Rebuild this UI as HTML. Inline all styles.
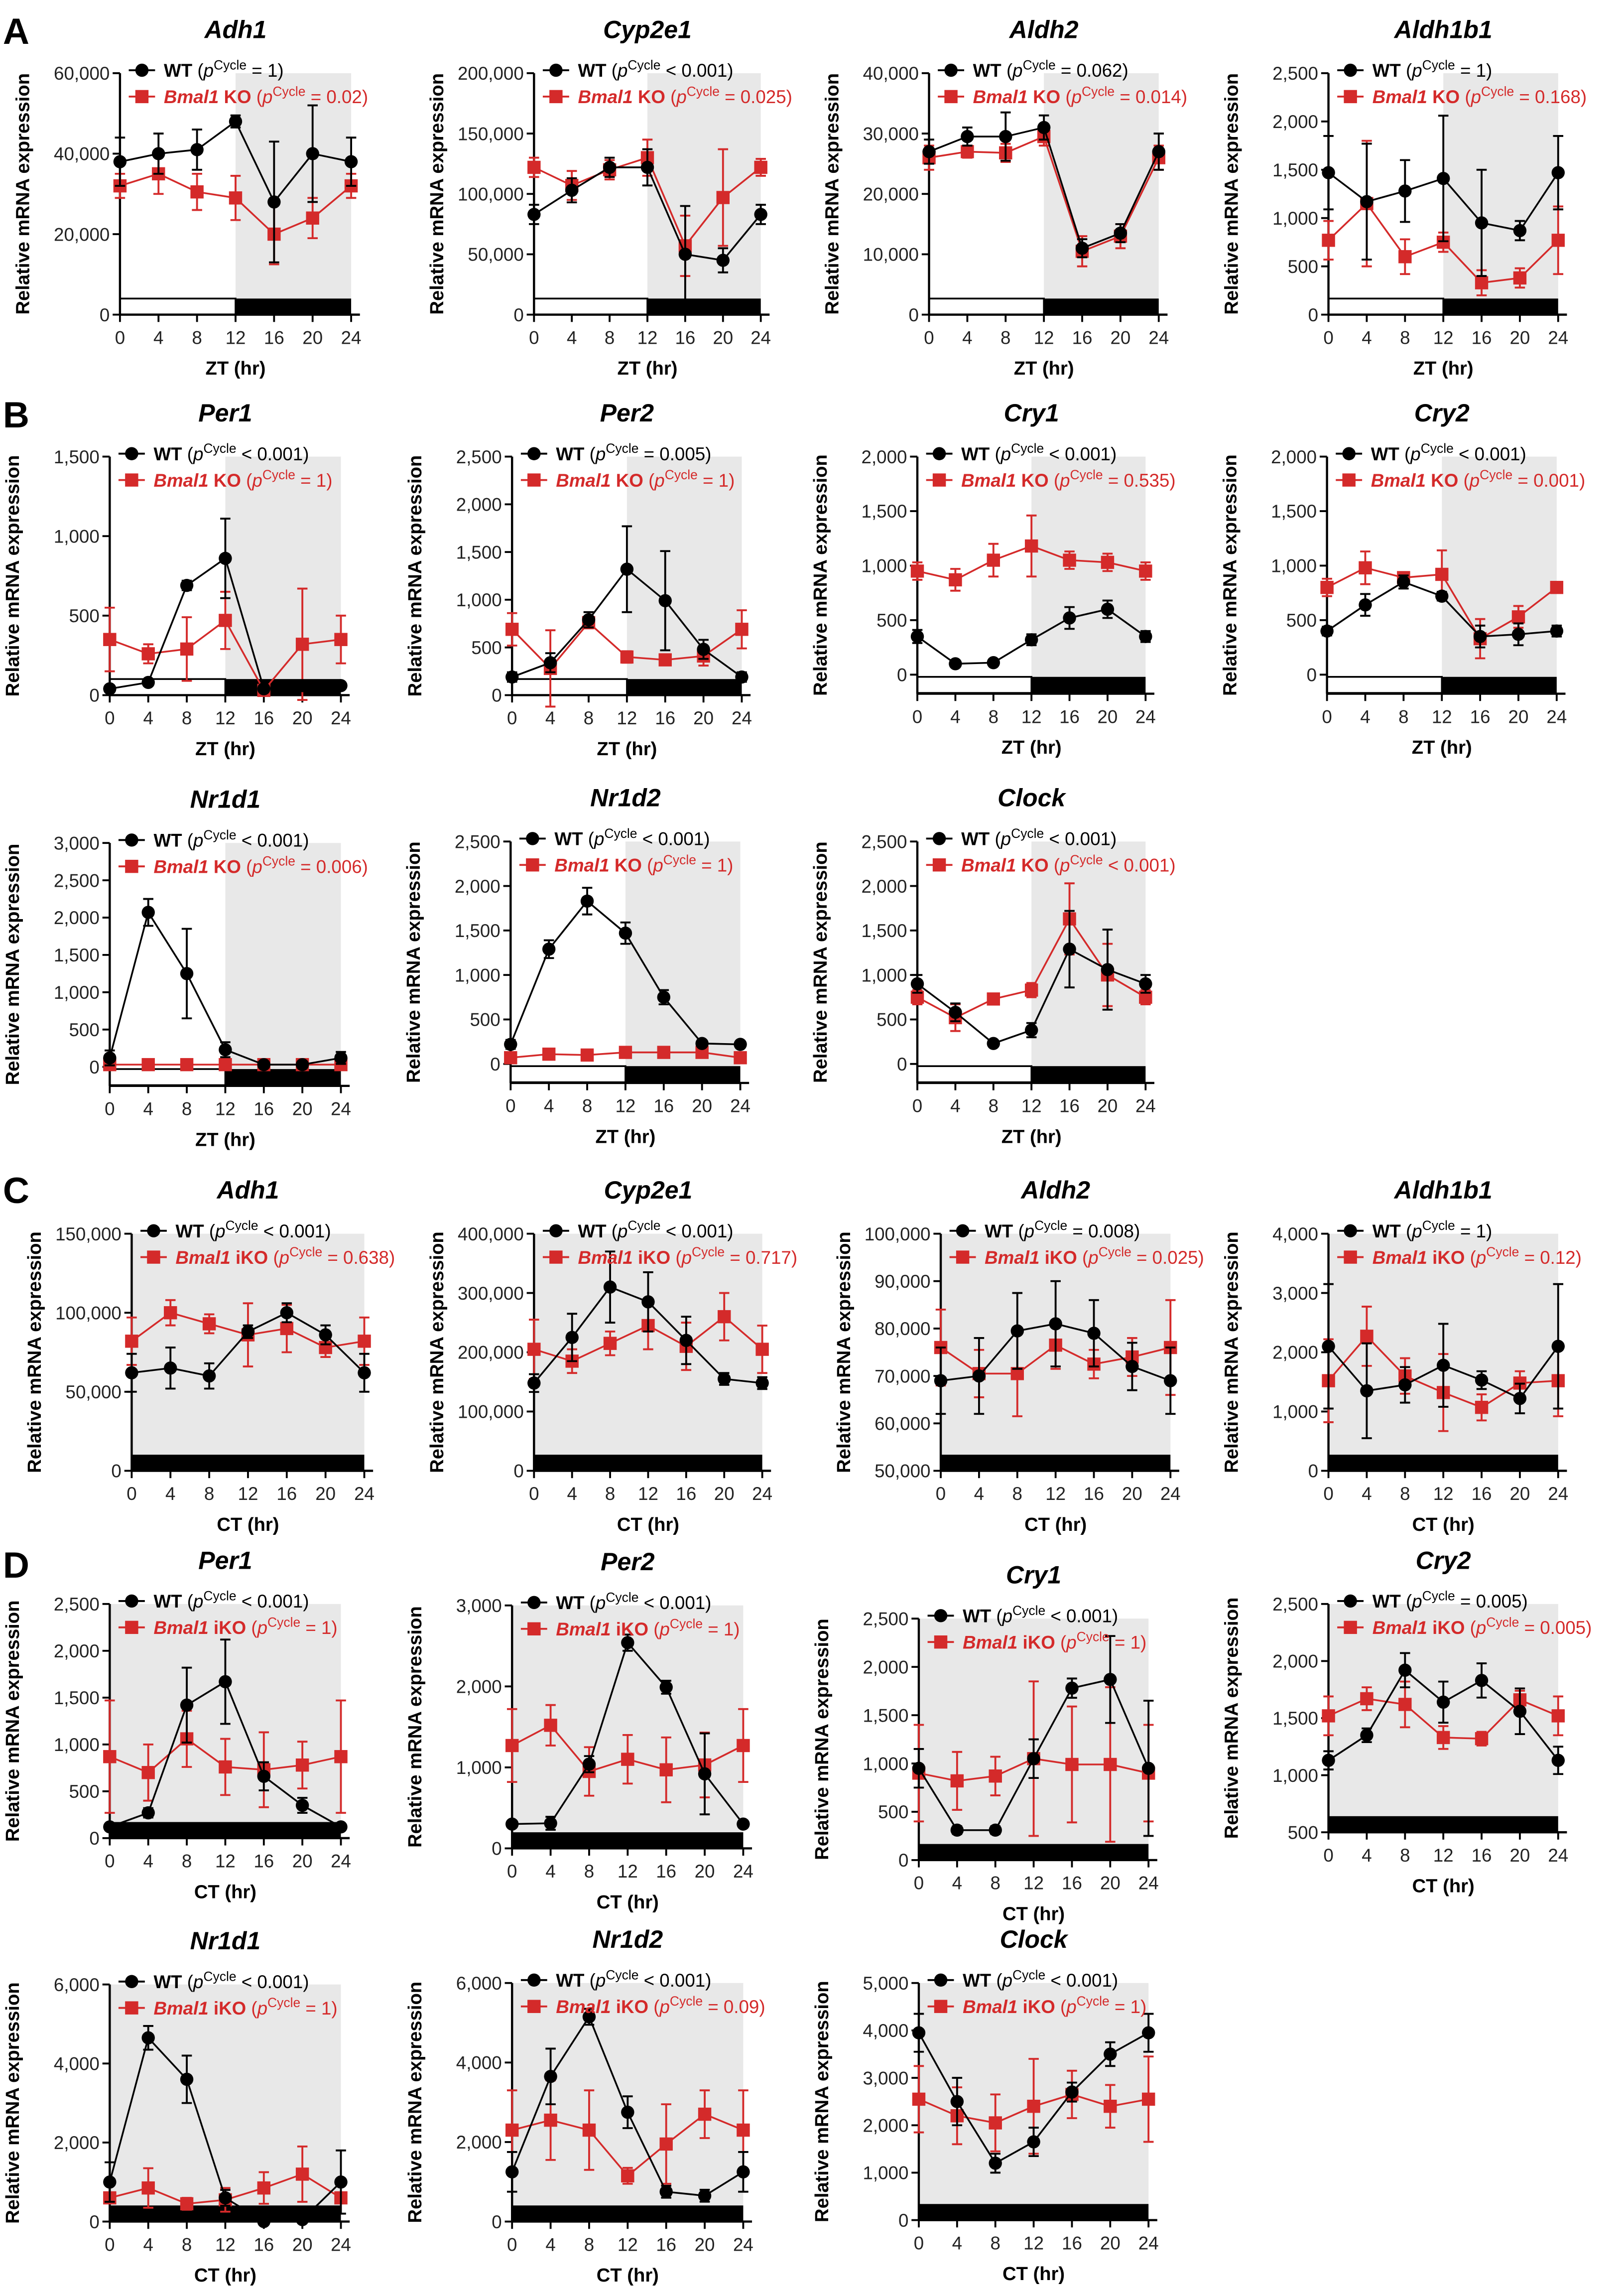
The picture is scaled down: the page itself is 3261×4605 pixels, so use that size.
<!DOCTYPE html>
<html><head><meta charset="utf-8"><style>
html,body{margin:0;padding:0;background:#fff;}
svg{display:block;font-family:"Liberation Sans",Arial,sans-serif;}
</style></head><body>
<svg id="fig" width="3261" height="4605" viewBox="0 0 1110 1567.5" preserveAspectRatio="none" xmlns="http://www.w3.org/2000/svg">
<text x="2" y="30" font-size="25" font-weight="bold">A</text>
<text x="2" y="292" font-size="25" font-weight="bold">B</text>
<text x="2" y="822" font-size="25" font-weight="bold">C</text>
<text x="2" y="1078" font-size="25" font-weight="bold">D</text>
</svg>
<script>
const times = [0,4,8,12,16,20,24];
// A
const aAdh1WT=[38000,40000,41000,48000,28000,40000,38000], aAdh1WTe=[6000,5000,5000,1500,15000,12000,6000];
const aAdh1KO=[32000,35000,30500,29000,20000,24000,32000], aAdh1KOe=[3000,5000,4500,5500,7500,5000,3000];
const aCypWT=[83000,103000,122000,122000,50000,45000,83000], aCypWTe=[8000,10000,8000,15000,40000,10000,8000];
const aCypKO=[122000,107000,120000,130000,57000,97000,122000], aCypKOe=[8000,12000,8000,15000,25000,40000,7000];
const aAldh2WT=[27000,29500,29500,31000,11000,13500,27000], aAldh2WTe=[2000,1500,4000,2000,1500,1500,3000];
const aAldh2KO=[26000,27000,26800,29500,10500,13000,26000], aAldh2KOe=[2000,1000,1500,1500,2500,2000,2000];
const aAldh1b1WT=[1470,1170,1280,1410,950,870,1470], aAldh1b1WTe=[380,600,320,650,550,100,380];
const aAldh1b1KO=[770,1150,600,750,330,380,770], aAldh1b1KOe=[200,650,180,100,130,100,350];
// B
const bPer1WT=[40,80,690,860,40,60,60], bPer1WTe=[20,20,30,250,20,20,20];
const bPer1KO=[350,260,290,470,30,320,350], bPer1KOe=[200,60,200,180,20,350,150];
const bPer2WT=[190,340,790,1320,990,480,190], bPer2WTe=[50,100,80,450,520,100,50];
const bPer2KO=[690,280,760,400,370,410,690], bPer2KOe=[170,400,60,60,50,100,200];
const bCry1WT=[350,100,110,320,520,600,350], bCry1WTe=[60,20,20,50,100,80,50];
const bCry1KO=[950,870,1050,1180,1050,1030,950], bCry1KOe=[80,100,150,280,80,80,80];
const bCry2WT=[400,640,850,720,350,370,400], bCry2WTe=[40,100,60,40,100,100,50];
const bCry2KO=[800,980,890,920,330,530,800], bCry2KOe=[80,150,50,220,180,100,40];
const bNr1d1WT=[120,2070,1250,230,30,30,120], bNr1d1WTe=[100,180,600,100,20,20,80];
const bNr1d1KO=[30,30,30,30,30,30,30], bNr1d1KOe=[10,10,10,10,10,10,10];
const bNr1d2WT=[220,1290,1830,1470,750,230,220], bNr1d2WTe=[50,100,150,120,80,30,30];
const bNr1d2KO=[70,110,100,130,130,130,70], bNr1d2KOe=[20,20,20,60,30,30,20];
const bClockWT=[900,580,230,380,1290,1060,900], bClockWTe=[100,100,30,80,430,450,100];
const bClockKO=[750,520,730,830,1630,1000,750], bClockKOe=[80,150,40,80,400,350,80];
// C
const cAdh1WT=[62000,65000,60000,88000,100000,86000,62000], cAdh1WTe=[12000,13000,8000,4000,6000,6000,12000];
const cAdh1KO=[82000,100000,93000,86000,90000,78000,82000], cAdh1KOe=[15000,8000,6000,20000,15000,6000,15000];
const cCypWT=[148000,225000,310000,285000,220000,155000,148000], cCypWTe=[15000,40000,60000,50000,40000,10000,10000];
const cCypKO=[205000,185000,215000,245000,210000,260000,205000], cCypKOe=[50000,20000,20000,40000,40000,40000,40000];
const cAldh2WT=[69000,70000,79500,81000,79000,72000,69000], cAldh2WTe=[7000,8000,8000,9000,7000,5000,7000];
const cAldh2KO=[76000,70500,70500,76500,72500,74000,76000], cAldh2KOe=[8000,5000,9000,5000,3000,4000,10000];
const cAldh1b1WT=[2100,1350,1450,1780,1530,1220,2100], cAldh1b1WTe=[1050,800,300,700,150,250,1050];
const cAldh1b1KO=[1520,2270,1600,1320,1070,1480,1520], cAldh1b1KOe=[700,500,300,650,220,200,600];
// D
const dPer1WT=[120,270,1420,1670,660,350,120], dPer1WTe=[30,50,400,450,150,80,30];
const dPer1KO=[870,700,1060,760,730,780,870], dPer1KOe=[600,300,300,300,400,250,600];
const dPer2WT=[300,310,1040,2540,1990,920,300], dPer2WTe=[40,80,100,100,80,500,40];
const dPer2KO=[1270,1520,950,1100,970,1030,1270], dPer2KOe=[450,250,300,300,400,400,450];
const dCry1WT=[950,310,310,1050,1780,1870,950], dCry1WTe=[200,40,40,200,100,450,700];
const dCry1KO=[900,820,870,1050,990,990,900], dCry1KOe=[500,300,200,800,600,800,500];
const dCry2WT=[1130,1350,1920,1640,1830,1560,1130], dCry2WTe=[80,60,150,180,150,200,120];
const dCry2KO=[1520,1670,1620,1330,1320,1660,1520], dCry2KOe=[170,100,200,100,60,80,170];
const dNr1d1WT=[1000,4650,3600,600,0,50,1000], dNr1d1WTe=[500,300,600,200,0,0,800];
const dNr1d1KO=[600,850,450,550,850,1200,600], dNr1d1KOe=[100,500,150,300,400,700,100];
const dNr1d2WT=[1250,3650,5150,2750,750,650,1250], dNr1d2WTe=[500,700,200,400,150,150,500];
const dNr1d2KO=[2300,2550,2300,1150,1950,2700,2300], dNr1d2KOe=[1000,1000,1000,200,1000,600,1000];
const dClockWT=[3950,2500,1200,1650,2700,3500,3950], dClockWTe=[400,500,200,300,200,250,400];
const dClockKO=[2550,2200,2050,2400,2650,2400,2550], dClockKOe=[700,600,600,1000,500,450,900];

const P = [
 {id:'a-adh1',t:'Adh1',L:82,R:240,T:50,B:215,min:0,max:60000,step:20000,zt:1,w:aAdh1WT,we:aAdh1WTe,k:aAdh1KO,ke:aAdh1KOe,pw:'= 1',pk:'= 0.02',ko:'KO'},
 {id:'a-cyp2e1',t:'Cyp2e1',L:365,R:520,T:50,B:215,min:0,max:200000,step:50000,zt:1,w:aCypWT,we:aCypWTe,k:aCypKO,ke:aCypKOe,pw:'< 0.001',pk:'= 0.025',ko:'KO'},
 {id:'a-aldh2',t:'Aldh2',L:635,R:792,T:50,B:215,min:0,max:40000,step:10000,zt:1,w:aAldh2WT,we:aAldh2WTe,k:aAldh2KO,ke:aAldh2KOe,pw:'= 0.062',pk:'= 0.014',ko:'KO'},
 {id:'a-aldh1b1',t:'Aldh1b1',L:908,R:1065,T:50,B:215,min:0,max:2500,step:500,zt:1,w:aAldh1b1WT,we:aAldh1b1WTe,k:aAldh1b1KO,ke:aAldh1b1KOe,pw:'= 1',pk:'= 0.168',ko:'KO'},
 {id:'b-per1',t:'Per1',L:75,R:233,T:312,B:475,min:0,max:1500,step:500,zt:1,w:bPer1WT,we:bPer1WTe,k:bPer1KO,ke:bPer1KOe,pw:'< 0.001',pk:'= 1',ko:'KO'},
 {id:'b-per2',t:'Per2',L:350,R:507,T:312,B:475,min:0,max:2500,step:500,zt:1,w:bPer2WT,we:bPer2WTe,k:bPer2KO,ke:bPer2KOe,pw:'= 0.005',pk:'= 1',ko:'KO'},
 {id:'b-cry1',t:'Cry1',L:627,R:783,T:312,B:461,min:0,max:2000,step:500,zt:1,below:1,w:bCry1WT,we:bCry1WTe,k:bCry1KO,ke:bCry1KOe,pw:'< 0.001',pk:'= 0.535',ko:'KO'},
 {id:'b-cry2',t:'Cry2',L:907,R:1064,T:312,B:461,min:0,max:2000,step:500,zt:1,below:1,w:bCry2WT,we:bCry2WTe,k:bCry2KO,ke:bCry2KOe,pw:'< 0.001',pk:'= 0.001',ko:'KO'},
 {id:'b-nr1d1',t:'Nr1d1',L:75,R:233,T:576,B:729,min:0,max:3000,step:500,zt:1,below:1,w:bNr1d1WT,we:bNr1d1WTe,k:bNr1d1KO,ke:bNr1d1KOe,pw:'< 0.001',pk:'= 0.006',ko:'KO'},
 {id:'b-nr1d2',t:'Nr1d2',L:349,R:506,T:575,B:727,min:0,max:2500,step:500,zt:1,below:1,w:bNr1d2WT,we:bNr1d2WTe,k:bNr1d2KO,ke:bNr1d2KOe,pw:'< 0.001',pk:'= 1',ko:'KO'},
 {id:'b-clock',t:'Clock',L:627,R:783,T:575,B:727,min:0,max:2500,step:500,zt:1,below:1,w:bClockWT,we:bClockWTe,k:bClockKO,ke:bClockKOe,pw:'< 0.001',pk:'< 0.001',ko:'KO'},
 {id:'c-adh1',t:'Adh1',L:90,R:249,T:843,B:1005,min:0,max:150000,step:50000,zt:0,w:cAdh1WT,we:cAdh1WTe,k:cAdh1KO,ke:cAdh1KOe,pw:'< 0.001',pk:'= 0.638',ko:'iKO'},
 {id:'c-cyp2e1',t:'Cyp2e1',L:365,R:521,T:843,B:1005,min:0,max:400000,step:100000,zt:0,w:cCypWT,we:cCypWTe,k:cCypKO,ke:cCypKOe,pw:'< 0.001',pk:'= 0.717',ko:'iKO'},
 {id:'c-aldh2',t:'Aldh2',L:643,R:800,T:843,B:1005,min:50000,max:100000,step:10000,zt:0,w:cAldh2WT,we:cAldh2WTe,k:cAldh2KO,ke:cAldh2KOe,pw:'= 0.008',pk:'= 0.025',ko:'iKO'},
 {id:'c-aldh1b1',t:'Aldh1b1',L:908,R:1065,T:843,B:1005,min:0,max:4000,step:1000,zt:0,w:cAldh1b1WT,we:cAldh1b1WTe,k:cAldh1b1KO,ke:cAldh1b1KOe,pw:'= 1',pk:'= 0.12',ko:'iKO'},
 {id:'d-per1',t:'Per1',L:75,R:233,T:1096,B:1256,min:0,max:2500,step:500,zt:0,w:dPer1WT,we:dPer1WTe,k:dPer1KO,ke:dPer1KOe,pw:'< 0.001',pk:'= 1',ko:'iKO'},
 {id:'d-per2',t:'Per2',L:350,R:508,T:1097,B:1263,min:0,max:3000,step:1000,zt:0,w:dPer2WT,we:dPer2WTe,k:dPer2KO,ke:dPer2KOe,pw:'< 0.001',pk:'= 1',ko:'iKO'},
 {id:'d-cry1',t:'Cry1',L:628,R:785,T:1106,B:1271,min:0,max:2500,step:500,zt:0,w:dCry1WT,we:dCry1WTe,k:dCry1KO,ke:dCry1KOe,pw:'< 0.001',pk:'= 1',ko:'iKO'},
 {id:'d-cry2',t:'Cry2',L:908,R:1065,T:1096,B:1252,min:500,max:2500,step:500,zt:0,w:dCry2WT,we:dCry2WTe,k:dCry2KO,ke:dCry2KOe,pw:'= 0.005',pk:'= 0.005',ko:'iKO'},
 {id:'d-nr1d1',t:'Nr1d1',L:75,R:233,T:1356,B:1518,min:0,max:6000,step:2000,zt:0,w:dNr1d1WT,we:dNr1d1WTe,k:dNr1d1KO,ke:dNr1d1KOe,pw:'< 0.001',pk:'= 1',ko:'iKO'},
 {id:'d-nr1d2',t:'Nr1d2',L:350,R:508,T:1355,B:1518,min:0,max:6000,step:2000,zt:0,w:dNr1d2WT,we:dNr1d2WTe,k:dNr1d2KO,ke:dNr1d2KOe,pw:'< 0.001',pk:'= 0.09',ko:'iKO'},
 {id:'d-clock',t:'Clock',L:628,R:785,T:1355,B:1517,min:0,max:5000,step:1000,zt:0,w:dClockWT,we:dClockWTe,k:dClockKO,ke:dClockKOe,pw:'< 0.001',pk:'= 1',ko:'iKO'}
];

const NS='http://www.w3.org/2000/svg';
const svg=document.getElementById('fig');
function mk(tag,a,parent){const e=document.createElementNS(NS,tag);for(const k in a)e.setAttribute(k,a[k]);(parent||svg).appendChild(e);return e;}
function fmt(v){return v.toLocaleString('en-US');}
const RED='#d42a2a';

P.forEach(p=>{
  const g=mk('g',{});
  
  
  const x=t=>p.L+(p.R-p.L)*t/24;
  const y=v=>p.B-(p.B-p.T)*(v-p.min)/(p.max-p.min);
  const barH=11;
  const XA = p.below ? p.B+13 : p.B;
  const barTop = p.below ? p.B+1.5 : p.B-barH;
  // shading
  const sx=p.zt?x(12):p.L;
  const sh=mk('rect',{x:sx,y:p.T,width:x(24)-sx,height:barTop-p.T,fill:'#e8e8e8'},g);
  
  
  if(p.zt){
    const lb=mk('rect',{x:p.L,y:barTop,width:x(12)-p.L,height:barH,fill:'#fff',stroke:'#000','stroke-width':1.2},g);
    
    
  }
  const db=mk('rect',{x:p.zt?x(12):p.L,y:barTop,width:x(24)-(p.zt?x(12):p.L),height:barH,fill:'#000'},g);
  
  
  // axes
  const ya=mk('line',{x1:p.L,y1:p.T,x2:p.L,y2:XA,stroke:'#000','stroke-width':1.5},g);
  
  
  const xa=mk('line',{x1:p.L,y1:XA,x2:x(24)+6,y2:XA,stroke:'#000','stroke-width':1.5},g);
  
  
  for(let v=p.min;v<=p.max+1e-9;v+=p.step){
    mk('line',{x1:p.L-5,y1:y(v),x2:p.L,y2:y(v),stroke:'#000','stroke-width':1.3},g);
    const tl=mk('text',{x:p.L-7,y:y(v)+4.5,'font-size':12.5,'text-anchor':'end',fill:'#222'},g);
    tl.textContent=fmt(v);
    
    
  }
  times.forEach(t=>{
    mk('line',{x1:x(t),y1:XA,x2:x(t),y2:XA+5,stroke:'#000','stroke-width':1.3},g);
    const tl=mk('text',{x:x(t),y:XA+20,'font-size':12.5,'text-anchor':'middle',fill:'#222'},g);
    tl.textContent=t;
    
    
  });
  const xt=mk('text',{x:(p.L+x(24))/2,y:XA+41,'font-size':13,'font-weight':'bold','text-anchor':'middle'},g);
  xt.textContent=(p.zt?'ZT':'CT')+' (hr)';
  
  
  const cy=(p.T+XA)/2, yx=p.L-62;
  const yt=mk('text',{x:yx,y:cy,'font-size':13,'font-weight':'bold','text-anchor':'middle',transform:`rotate(-90 ${yx} ${cy})`},g);
  yt.textContent='Relative mRNA expression';
  
  
  const tt=mk('text',{x:(p.L+x(24))/2,y:p.T-24,'font-size':17,'font-weight':'bold','font-style':'italic','text-anchor':'middle'},g);
  tt.textContent=p.t;
  
  
  // series
  function series(vals,errs,col,sq,name){
    const sg=mk('g',{},g);
    
    
    mk('polyline',{points:vals.map((v,i)=>x(times[i])+','+y(v)).join(' '),fill:'none',stroke:col,'stroke-width':1.2},sg);
    vals.forEach((v,i)=>{
      const cx=x(times[i]),e=errs[i];
      mk('path',{d:`M${cx},${y(v-e)}V${y(v+e)}M${cx-3.5},${y(v+e)}h7M${cx-3.5},${y(v-e)}h7`,stroke:col,'stroke-width':1.3,fill:'none'},sg);
      let m;
      if(sq){m=mk('rect',{x:cx-4.5,y:y(v)-4.5,width:9,height:9,fill:col},sg);}
      else{m=mk('circle',{cx:cx,cy:y(v),r:4.5,fill:col},sg);}
      
      
    });
  }
  series(p.k,p.ke,RED,true,'ko-series');
  series(p.w,p.we,'#000',false,'wt-series');
  // legend
  const lx=p.L+6, ly1=p.T-2, ly2=p.T+16;
  const l1=mk('g',{},g);
  
  
  mk('line',{x1:lx,y1:ly1,x2:lx+18,y2:ly1,stroke:'#000','stroke-width':1.3},l1);
  mk('circle',{cx:lx+9,cy:ly1,r:4.5,fill:'#000'},l1);
  const t1=mk('text',{x:lx+24,y:ly1+4.5,'font-size':12.5},l1);
  t1.innerHTML=`<tspan font-weight="bold">WT</tspan> (<tspan font-style="italic">p</tspan><tspan font-size="9" dy="-5">Cycle</tspan><tspan dy="5"> ${p.pw})</tspan>`;
  const l2=mk('g',{},g);
  
  
  mk('line',{x1:lx,y1:ly2,x2:lx+18,y2:ly2,stroke:RED,'stroke-width':1.3},l2);
  mk('rect',{x:lx+4.5,y:ly2-4.5,width:9,height:9,fill:RED},l2);
  const t2=mk('text',{x:lx+24,y:ly2+4.5,'font-size':12.5,fill:RED},l2);
  t2.innerHTML=`<tspan font-weight="bold" font-style="italic">Bmal1</tspan><tspan font-weight="bold"> ${p.ko}</tspan> (<tspan font-style="italic">p</tspan><tspan font-size="9" dy="-5">Cycle</tspan><tspan dy="5"> ${p.pk})</tspan>`;
});
</script>
</body></html>
